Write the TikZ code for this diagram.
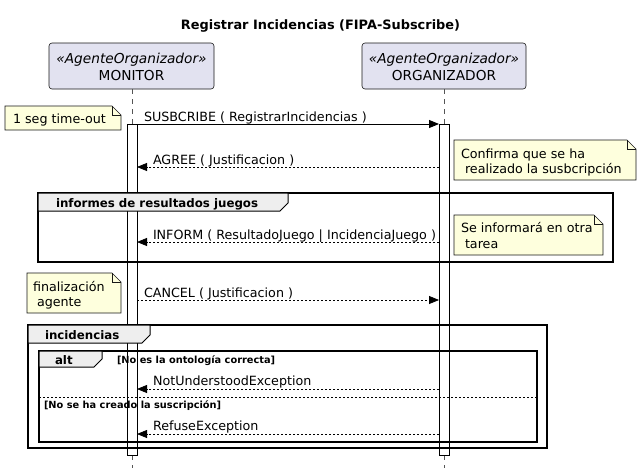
\documentclass[tikz,border=0pt]{standalone}
\usepackage{fontspec}
\setmainfont{DejaVu Sans}
\usetikzlibrary{arrows.meta}
\definecolor{partfill}{HTML}{E2E2F0}
\definecolor{partline}{HTML}{181818}
\definecolor{notefill}{HTML}{FEFFDD}
\definecolor{tabfill}{HTML}{EEEEEE}
\definecolor{lifegray}{HTML}{555555}
\newcommand\rsTitleFont{\fontsize{12.9}{15}\selectfont\bfseries}
\newcommand\rsPartFont{\fontsize{13.7}{16}\selectfont}
\newcommand\rsMsgFont{\fontsize{12.7}{15}\selectfont}
\newcommand\rsGrpFont{\fontsize{11.8}{14}\selectfont\bfseries}
\newcommand\rsGuardFont{\fontsize{9.8}{12}\selectfont\bfseries}
\begin{document}
\begin{tikzpicture}[x=1pt,y=-1pt,
  every node/.style={inner sep=0pt, outer sep=0pt},
  part/.style={draw=partline, fill=partfill, line width=0.6pt, rounded corners=3pt},
  lifeline/.style={draw=lifegray, line width=0.6pt, dash pattern=on 5pt off 5pt},
  actbar/.style={draw=black, line width=1pt},
  frame/.style={draw=black, line width=1.5pt},
  tabbox/.style={draw=black, line width=1pt, fill=tabfill},
  notebox/.style={draw=partline, fill=notefill, line width=0.6pt},
  sync/.style={draw=black, line width=1pt, -{Triangle[length=10pt,width=8pt]}},
  reply/.style={draw=black, line width=0.8pt, dash pattern=on 2pt off 2pt, -{Triangle[length=10pt,width=8pt]}},
  msglabel/.style={anchor=base west, font=\rsMsgFont},
  notetext/.style={anchor=base west, font=\rsMsgFont},
  grplabel/.style={anchor=base west, font=\rsGrpFont},
  guard/.style={anchor=base west, font=\rsGuardFont},
  septext/.style={draw=black, line width=0.8pt, dash pattern=on 2pt off 2pt}
]
\useasboundingbox (0,0) rectangle (642,471);
\fill[white] (0,0) rectangle (642,471);

% title
\node[anchor=base, font=\rsTitleFont] (title) at (320.5,29) {Registrar Incidencias (FIPA-Subscribe)};

% participants
\node[part, minimum width=165pt, minimum height=46pt] (mon) at (131.5,66) {};
\node[anchor=base, font=\rsPartFont\itshape] (monst) at (131.5,63) {«AgenteOrganizador»};
\node[anchor=base, font=\rsPartFont] (monname) at (131.5,80) {MONITOR};
\node[part, minimum width=164pt, minimum height=46pt] (org) at (444,66) {};
\node[anchor=base, font=\rsPartFont\itshape] (orgst) at (444,63) {«AgenteOrganizador»};
\node[anchor=base, font=\rsPartFont] (orgname) at (444,80) {ORGANIZADOR};

% lifelines
\coordinate (monbartop) at (132,124);
\coordinate (monbarbot) at (132,455);
\coordinate (monend) at (132,468);
\coordinate (orgbartop) at (444,124);
\coordinate (orgbarbot) at (444,455);
\coordinate (orgend) at (444,468);
\draw[lifeline] (mon.south -| monbartop) -- (monbartop);
\draw[lifeline] (org.south -| orgbartop) -- (orgbartop);
\draw[lifeline] (monbarbot) -- (monend);
\draw[lifeline] (orgbarbot) -- (orgend);

% frames (outlines and guards)
\draw[frame] (38,193) rectangle (613,262);
\draw[frame] (28,325) rectangle (547,448);
\draw[frame] (39,351) rectangle (537,442);
\node[guard] (g1) at (117,363) {[No es la ontología correcta]};
\draw[septext] (39,397) -- (537,397);
\node[guard] (g2) at (44,408) {[No se ha creado la suscripción]};

% activation bars
\draw[actbar] (127,124) rectangle (137,455);
\draw[actbar] (439,124) rectangle (449,455);

% frame tabs (over the bars)
\draw[tabbox] (38,193) -- (288,193) -- (288,203) -- (280,211) -- (38,211) -- cycle;
\node[grplabel] (grp1) at (56,207) {informes de resultados juegos};
\draw[tabbox] (28,325) -- (150,325) -- (150,335) -- (142,343) -- (28,343) -- cycle;
\node[grplabel] (grp2) at (45,339) {incidencias};
\draw[tabbox] (39,351) -- (102,351) -- (102,359) -- (94,367) -- (39,367) -- cycle;
\node[grplabel] (grp3) at (55,364) {alt};

% message end points
\coordinate (m1) at (137,124); \coordinate (o1) at (439,124);
\coordinate (m2) at (137,167); \coordinate (o2) at (439,167);
\coordinate (m3) at (137,242); \coordinate (o3) at (439,242);
\coordinate (m4) at (137,300); \coordinate (o4) at (439,300);
\coordinate (m5) at (137,389); \coordinate (o5) at (439,389);
\coordinate (m6) at (137,434); \coordinate (o6) at (439,434);

\draw[sync] (m1) -- (o1);
\node[msglabel] (l1) at (144,121) {SUSBCRIBE ( RegistrarIncidencias )};
\draw[reply] (o2) -- (m2);
\node[msglabel] (l2) at (153,164) {AGREE ( Justificacion )};
\draw[reply] (o3) -- (m3);
\node[msglabel] (l3) at (153,239) {INFORM ( ResultadoJuego | IncidenciaJuego )};
\draw[reply] (m4) -- (o4);
\node[msglabel] (l4) at (144,297) {CANCEL ( Justificacion )};
\draw[reply] (o5) -- (m5);
\node[msglabel] (l5) at (153,385) {NotUnderstoodException};
\draw[reply] (o6) -- (m6);
\node[msglabel] (l6) at (153,430) {RefuseException};

% notes
\draw[notebox] (5,106) -- (112,106) -- (121,115) -- (121,130) -- (5,130) -- cycle;
\draw[notebox, fill=none] (112,106) -- (112,115) -- (121,115);
\node[notetext] (n1) at (13,123) {1 seg time-out};

\draw[notebox] (454,140) -- (627,140) -- (636,149) -- (636,180) -- (454,180) -- cycle;
\draw[notebox, fill=none] (627,140) -- (627,149) -- (636,149);
\node[notetext] (n2a) at (461,158) {Confirma que se ha};
\node[notetext] (n2b) at (465,173) {realizado la susbcripción};

\draw[notebox] (454,215) -- (594,215) -- (603,224) -- (603,255) -- (454,255) -- cycle;
\draw[notebox, fill=none] (594,215) -- (594,224) -- (603,224);
\node[notetext] (n3a) at (461,232) {Se informará en otra};
\node[notetext] (n3b) at (465,248) {tarea};

\draw[notebox] (27,273) -- (112,273) -- (121,282) -- (121,313) -- (27,313) -- cycle;
\draw[notebox, fill=none] (112,273) -- (112,282) -- (121,282);
\node[notetext] (n4a) at (33,291) {finalización};
\node[notetext] (n4b) at (37,306) {agente};
\end{tikzpicture}
\end{document}
